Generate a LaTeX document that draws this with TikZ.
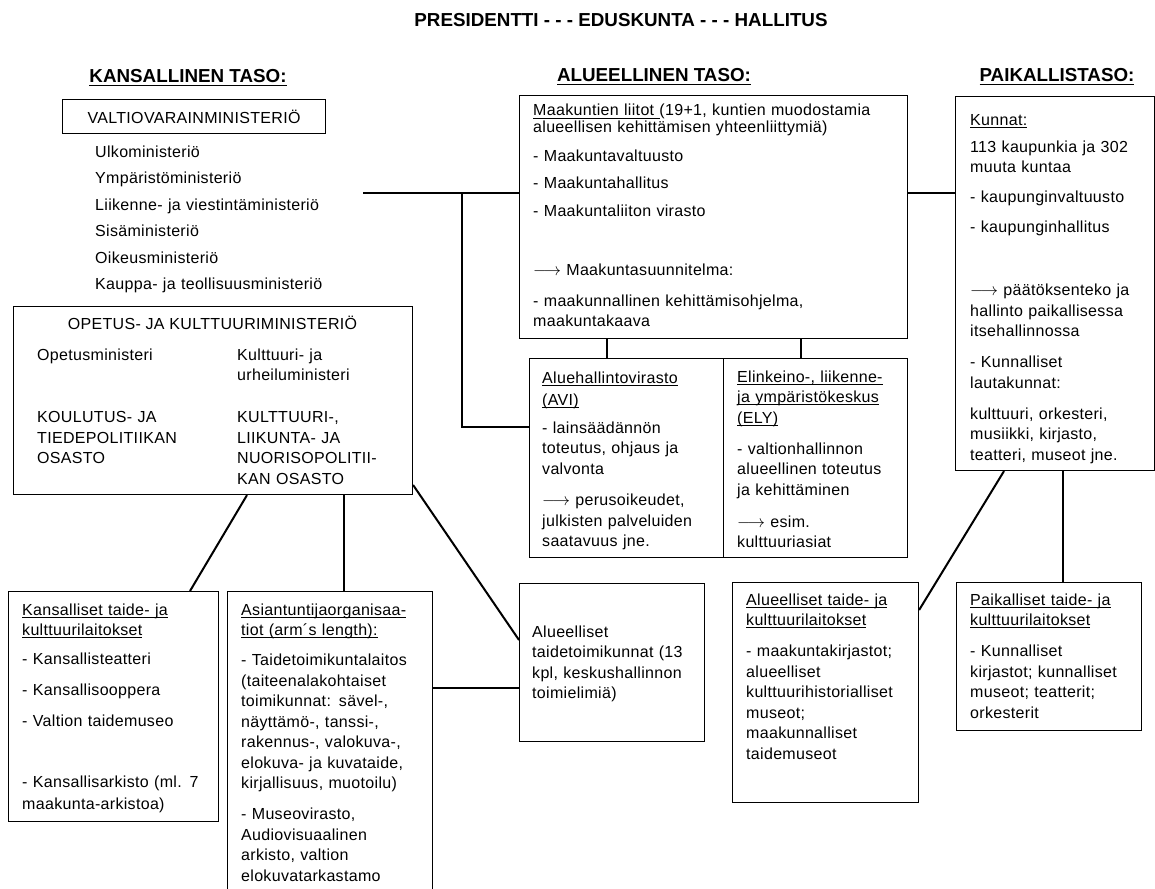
\documentclass[tikz,border=0pt]{standalone}
\usepackage{fontspec}
\setmainfont{Liberation Sans}
\usepackage{tikz}
\usetikzlibrary{positioning, calc}
\newcommand{\perus}{\fontsize{16}{20.5}\selectfont\addfontfeatures{LetterSpace=2}}
\newcommand{\alla}[1]{\setbox0\hbox{#1}\leavevmode\rlap{\rule[-2.6pt]{\wd0}{1pt}}\box0}
\newcommand{\nuoli}{$\longrightarrow$}

\begin{document}
\begin{tikzpicture}[
    x=1pt, y=-1pt, % 像素坐标,y向下
    laatikko/.style={draw, line width=1.1pt, anchor=north west, inner sep=0pt}, % 方框
    yhteys/.style={line width=2pt}, % 连接线
    teksti/.style={anchor=base west, inner sep=0pt, align=left, text width=#1, font=\perus}, % 正文
    teksti/.default=200pt,
    otsikko/.style={anchor=base, inner sep=0pt, font=\fontsize{18.8}{22}\selectfont\bfseries} % 标题
]
    % 1. 画布范围
    \fill[white] (0,0) rectangle (1155,888);
    \path[clip, use as bounding box] (0,0) rectangle (1155,888);

    % 2. 标题
    \node[otsikko] (paaotsikko) at (621,27) {PRESIDENTTI - - - EDUSKUNTA - - - HALLITUS};
    \node[otsikko] (kansallinen) at (188,83) {\alla{KANSALLINEN TASO:}};
    \node[otsikko] (alueellinen) at (654,82) {\alla{ALUEELLINEN TASO:}};
    \node[otsikko] (paikallinen) at (1057,82) {\alla{PAIKALLISTASO:}};

    % 3. 国家层
    \node[laatikko, minimum width=263pt, minimum height=34pt, font=\perus] (valtio) at (62,99) {VALTIOVARAINMINISTERIÖ};
    \node[teksti=260pt] (ministeriot) at (95,157) {Ulkoministeriö\\[6pt]
        Ympäristöministeriö\\[6pt]
        Liikenne- ja viestintäministeriö\\[6pt]
        Sisäministeriö\\[6pt]
        Oikeusministeriö\\[6pt]
        Kauppa- ja teollisuusministeriö};

    \node[laatikko, minimum width=399pt, minimum height=188pt] (opetus) at (13,306) {};
    \node[anchor=base, inner sep=0pt, font=\perus] (opetusnimi) at (212.5,329) {OPETUS- JA KULTTUURIMINISTERIÖ};
    \node[teksti=190pt] (opetusvasen) at (37,360) {Opetusministeri\\[42pt]
        KOULUTUS- JA\\
        TIEDEPOLITIIKAN\\
        OSASTO};
    \node[teksti=170pt] (opetusoikea) at (237,360) {Kulttuuri- ja\\
        urheiluministeri\\[21.5pt]
        KULTTUURI-,\\
        LIIKUNTA- JA\\
        NUORISOPOLITII-\\
        KAN OSASTO};

    \node[laatikko, minimum width=210pt, minimum height=230pt] (kansal) at (8,591) {};
    \node[teksti=190pt] (kansalteksti) at (22,615) {\alla{Kansalliset taide- ja}\\
        \alla{kulttuurilaitokset}\\[8.5pt]
        - Kansallisteatteri\\[10.5pt]
        - Kansallisooppera\\[10.5pt]
        - Valtion taidemuseo\\[40.5pt]
        - Kansallisarkisto (ml. 7\\[1.5pt]
        maakunta-arkistoa)};

    \node[laatikko, minimum width=205pt, minimum height=320pt] (asian) at (227,591) {};
    \node[teksti=185pt] (asianteksti) at (241,615) {\alla{Asiantuntijaorganisaa-}\\
        \alla{tiot (arm´s length):}\\[9.5pt]
        - Taidetoimikuntalaitos\\
        (taiteenalakohtaiset\\
        toimikunnat: sävel-,\\
        näyttämö-, tanssi-,\\
        rakennus-, valokuva-,\\
        elokuva- ja kuvataide,\\
        kirjallisuus, muotoilu)\\[10.5pt]
        - Museovirasto,\\
        Audiovisuaalinen\\
        arkisto, valtion\\
        elokuvatarkastamo};

    % 4. 地区层
    \node[laatikko, minimum width=388pt, minimum height=243pt] (maak) at (519,95) {};
    \node[teksti=370pt] (maakteksti) at (533,116) {\alla{Maakuntien liitot }(19+1, kuntien muodostamia\\[-3.5pt]
        alueellisen kehittämisen yhteenliittymiä)\\[7.5pt]
        - Maakuntavaltuusto\\[7.5pt]
        - Maakuntahallitus\\[7pt]
        - Maakuntaliiton virasto\\[38pt]
        \nuoli{} Maakuntasuunnitelma:\\[10.5pt]
        - maakunnallinen kehittämisohjelma,\\
        maakuntakaava};

    \node[laatikko, minimum width=194pt, minimum height=199pt] (avi) at (529,358) {};
    \node[teksti=175pt] (aviteksti) at (542,383) {\alla{Aluehallintovirasto}\\[1.5pt]
        \alla{(AVI)}\\[7.5pt]
        - lainsäädännön\\
        toteutus, ohjaus ja\\
        valvonta\\[11pt]
        \nuoli{} perusoikeudet,\\
        julkisten palveluiden\\
        saatavuus jne.};
    \node[laatikko, minimum width=184pt, minimum height=199pt] (ely) at (723,358) {};
    \node[teksti=165pt] (elyteksti) at (737,382) {\alla{Elinkeino-, liikenne-}\\
        \alla{ja ympäristökeskus}\\
        \alla{(ELY)}\\[10.5pt]
        - valtionhallinnon\\
        alueellinen toteutus\\
        ja kehittäminen\\[11.5pt]
        \nuoli{} esim.\\
        kulttuuriasiat};

    \node[laatikko, minimum width=185pt, minimum height=158pt] (alutoim) at (519,583) {};
    \node[teksti=165pt] (alutoimteksti) at (532,637) {Alueelliset\\
        taidetoimikunnat (13\\
        kpl, keskushallinnon\\
        toimielimiä)};

    \node[laatikko, minimum width=186pt, minimum height=220pt] (alulaitos) at (732,582) {};
    \node[teksti=170pt] (alulaitosteksti) at (746,605) {\alla{Alueelliset taide- ja}\\
        \alla{kulttuurilaitokset}\\[10.5pt]
        - maakuntakirjastot;\\
        alueelliset\\
        kulttuurihistorialliset\\
        museot;\\
        maakunnalliset\\
        taidemuseot};

    % 5. 地方层
    \node[laatikko, minimum width=199pt, minimum height=374pt] (kunnat) at (955,96) {};
    \node[teksti=180pt] (kunnatteksti) at (970,125) {\alla{Kunnat:}\\[7pt]
        113 kaupunkia ja 302\\[-1pt]
        muuta kuntaa\\[10pt]
        - kaupunginvaltuusto\\[9.5pt]
        - kaupunginhallitus\\[42.5pt]
        \nuoli{} päätöksenteko ja\\
        hallinto paikallisessa\\
        itsehallinnossa\\[10.5pt]
        - Kunnalliset\\
        lautakunnat:\\[10.5pt]
        kulttuuri, orkesteri,\\
        musiikki, kirjasto,\\
        teatteri, museot jne.};

    \node[laatikko, minimum width=185pt, minimum height=148pt] (paikal) at (956,582) {};
    \node[teksti=165pt] (paikalteksti) at (970,605) {\alla{Paikalliset taide- ja}\\
        \alla{kulttuurilaitokset}\\[10.5pt]
        - Kunnalliset\\
        kirjastot; kunnalliset\\
        museot; teatterit;\\
        orkesterit};

    % 6. 连接线
    \coordinate (vasen) at (363,193);
    \coordinate (haara) at (462,193);
    \draw[yhteys] (vasen) -- (maak.west |- vasen);
    \draw[yhteys] (haara) |- (avi.west |- 0,427);
    \draw[yhteys] (maak.east |- vasen) -- (kunnat.west |- vasen);
    \draw[yhteys] (607,0 |- maak.south) -- (607,0 |- avi.north);
    \draw[yhteys] (801,0 |- maak.south) -- (801,0 |- ely.north);
    \draw[yhteys] (247,0 |- opetus.south) -- (190,0 |- kansal.north);
    \draw[yhteys] (344,0 |- opetus.south) -- (344,0 |- asian.north);
    \draw[yhteys] (opetus.east |- 0,485) -- (alutoim.west |- 0,640);
    \draw[yhteys] (asian.east |- 0,688) -- (alutoim.west |- 0,688);
    \draw[yhteys] (1004,0 |- kunnat.south) -- (alulaitos.east |- 0,610);
    \draw[yhteys] (1063,0 |- kunnat.south) -- (1063,0 |- paikal.north);
\end{tikzpicture}
\end{document}
